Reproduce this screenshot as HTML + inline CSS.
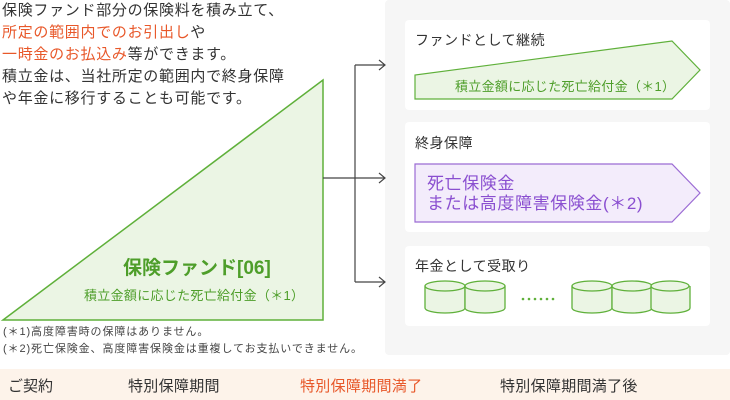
<!DOCTYPE html>
<html><head><meta charset="utf-8"><style>
body{margin:0;width:730px;height:400px;position:relative;background:#fff;font-family:"Liberation Sans","Noto Sans CJK JP",sans-serif;color:#333;overflow:hidden}
.a{position:absolute;white-space:nowrap}
.o{color:#e8582a}
</style></head><body>
<div class="a" style="left:385px;top:0;width:345px;height:355px;background:#f6f6f6;border-radius:4px"></div>
<div class="a" style="left:405px;top:20px;width:305px;height:90px;background:#fff;border-radius:4px"></div>
<div class="a" style="left:405px;top:122px;width:305px;height:110px;background:#fff;border-radius:4px"></div>
<div class="a" style="left:405px;top:246px;width:305px;height:80px;background:#fff;border-radius:4px"></div>
<svg class="a" style="left:0;top:0" width="730" height="400">
<polygon points="3,320 323,80 323,320" fill="#ebf5e4" stroke="#5fb03a" stroke-width="1.5"/>
<g stroke="#444" stroke-width="1.2" fill="none">
<line x1="323" y1="178" x2="355" y2="178"/>
<line x1="355" y1="65" x2="355" y2="282"/>
<line x1="355" y1="65" x2="385" y2="65"/><polyline points="379,60 385,65 379,70"/>
<line x1="355" y1="178" x2="385" y2="178"/><polyline points="379,173 385,178 379,183"/>
<line x1="355" y1="282" x2="385" y2="282"/><polyline points="379,277 385,282 379,287"/>
</g>
<polygon points="415,99 415,75 672,41 700,70 672,99" fill="#ebf5e4" stroke="#5fb03a" stroke-width="1.2"/>
<polygon points="415,164 672,164 700,193 672,222 415,222" fill="#f3ecfb" stroke="#9b6bd4" stroke-width="1.2"/>
<g fill="#ebf5e4" stroke="#5fb03a" stroke-width="1.3">
<path d="M425,286 v22 a20,5 0 0 0 40,0 v-22"/><ellipse cx="445" cy="286" rx="20" ry="5"/>
<path d="M465,286 v22 a20,5 0 0 0 40,0 v-22"/><ellipse cx="485" cy="286" rx="20" ry="5"/>
<path d="M572,286 v22 a20,5 0 0 0 40,0 v-22"/><ellipse cx="592" cy="286" rx="20" ry="5"/>
<path d="M612,286 v22 a20,5 0 0 0 40,0 v-22"/><ellipse cx="632" cy="286" rx="20" ry="5"/>
<path d="M651,286 v22 a19,5 0 0 0 39,0 v-22"/><ellipse cx="670" cy="286" rx="19" ry="5"/>
</g>
<g fill="#5fb03a"><circle cx="523" cy="299" r="1.3"/><circle cx="529" cy="299" r="1.3"/><circle cx="535" cy="299" r="1.3"/><circle cx="541" cy="299" r="1.3"/><circle cx="547" cy="299" r="1.3"/><circle cx="553" cy="299" r="1.3"/></g>
</svg>
<div class="a" style="left:2px;top:0;font-size:15px;line-height:22px;letter-spacing:0.7px">保険ファンド部分の保険料を積み立て、<br><span class="o">所定の範囲内でのお引出し</span>や<br><span class="o">一時金のお払込み</span>等ができます。<br>積立金は、当社所定の範囲内で終身保障<br>や年金に移行することも可能です。</div>
<div class="a" style="left:123px;top:253px;font-size:19px;font-weight:bold;color:#4e9e2a">保険ファンド[06]</div>
<div class="a" style="left:84px;top:285px;font-size:13px;color:#4e9e2a;letter-spacing:0.3px">積立金額に応じた死亡給付金（＊1）</div>
<div class="a" style="left:3px;top:324px;font-size:11px;line-height:17px;color:#444;letter-spacing:0.9px">(＊1)高度障害時の保障はありません。<br>(＊2)死亡保険金、高度障害保険金は重複してお支払いできません。</div>
<div class="a" style="left:415px;top:30px;font-size:14px;letter-spacing:0.5px">ファンドとして継続</div>
<div class="a" style="left:455px;top:76px;font-size:13px;color:#4e9e2a;letter-spacing:0.3px">積立金額に応じた死亡給付金（＊1）</div>
<div class="a" style="left:415px;top:133px;font-size:14px;letter-spacing:0.5px">終身保障</div>
<div class="a" style="left:427px;top:174px;font-size:17px;line-height:20px;color:#8a4fd0;letter-spacing:0.6px">死亡保険金<br>または高度障害保険金(＊2)</div>
<div class="a" style="left:415px;top:256px;font-size:14px;letter-spacing:0.5px">年金として受取り</div>
<div class="a" style="left:0;top:369px;width:730px;height:31px;background:#fdf3ea"></div>
<div class="a" style="left:8px;top:375px;font-size:15px">ご契約</div>
<div class="a" style="left:128px;top:375px;font-size:15px;letter-spacing:0.3px">特別保障期間</div>
<div class="a o" style="left:300px;top:375px;font-size:15px;letter-spacing:0.3px">特別保障期間満了</div>
<div class="a" style="left:500px;top:375px;font-size:15px;letter-spacing:0.3px">特別保障期間満了後</div>
</body></html>
